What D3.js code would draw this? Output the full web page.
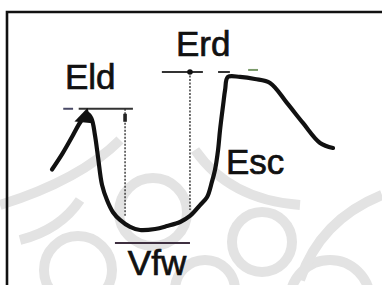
<!DOCTYPE html>
<html>
<head>
<meta charset="utf-8">
<script src="https://cdn.jsdelivr.net/npm/d3@7"></script>
<style>
  body { margin: 0; background: #fff; }
  svg { display: block; }
</style>
</head>
<body>
<div id="chart"></div>
<script>
var width = 382, height = 285;

// waveform: time (0-100) against level (0 = Vfw, 100 = Erd)
var times  = [0, 3.6, 7.1, 10, 12.5, 14, 15.3, 16.4, 17.8, 19.6, 21.7, 24.2, 27.8, 31.3, 36.7, 40.9, 45.6, 49.1, 52.7, 55.2, 56.9, 58.0, 59.1, 59.8, 60.9, 61.6, 62.6, 66.9, 72.2, 77.6, 83.6, 89.3, 95.4, 100];
var levels = [43, 52, 62, 70.5, 75.5, 73, 63, 50, 34, 25, 18, 13.5, 9.4, 7.6, 8.2, 9.9, 12.3, 15.8, 22.2, 26.9, 35.7, 42.7, 54.4, 66.1, 80.7, 89.5, 97.1, 97.1, 95.9, 93.6, 81.9, 70.2, 58.5, 55.6];

// levels of the marked reference lines
var eldLevel = 78.5, erdLevel = 100, vfwLevel = 0;

// label text
var labelNames = ["Eld", "Erd", "Esc", "Vfw"];
var labelTimes = [4.6, 44.1, 61.9, 27];
var labelLevels = [90, 109.4, 40.4, -18.7];

var svg = d3.select("#chart")
  .append("svg")
    .attr("width", width)
    .attr("height", height);

var x = d3.scaleLinear().domain([0, 100]).range([52, 333]);
var y = d3.scaleLinear().domain([0, 100]).range([243, 72]);

// faint watermark in the background
var wm = svg.append("g")
  .attr("fill", "none")
  .attr("stroke", "#e3e3e3")
  .attr("stroke-width", 10);
[[153, 212, 34], [262, 242, 30], [78, 270, 34], [205, 290, 30], [330, 300, 40]].forEach(function (c) {
  wm.append("circle").attr("cx", c[0]).attr("cy", c[1]).attr("r", c[2]);
});
wm.append("path").attr("d", "M0,205 Q80,180 120,140");
wm.append("path").attr("d", "M382,195 Q320,220 300,280");
wm.append("path").attr("d", "M195,150 Q230,200 300,205");
wm.append("path").attr("d", "M20,240 Q60,230 80,200");

// frame
svg.append("path")
  .attr("d", "M7,290 V12 H390")
  .attr("fill", "none")
  .attr("stroke", "#111")
  .attr("stroke-width", 2.6);

// reference lines
var ref = svg.append("g").attr("stroke", "#333").attr("fill", "none");

ref.append("line")
  .attr("x1", x(4)).attr("x2", x(7.5))
  .attr("y1", y(eldLevel)).attr("y2", y(eldLevel))
  .attr("stroke", "#4a4a66").attr("stroke-width", 2);
ref.append("line")
  .attr("x1", x(9.5)).attr("x2", x(28.8))
  .attr("y1", y(eldLevel)).attr("y2", y(eldLevel))
  .attr("stroke-width", 2);
ref.append("line")
  .attr("x1", x(26)).attr("x2", x(26))
  .attr("y1", y(eldLevel)).attr("y2", y(16))
  .attr("stroke-width", 1.4)
  .attr("stroke-dasharray", "2,1.5");
ref.append("rect")
  .attr("x", x(26) - 1.8).attr("y", y(eldLevel) + 5)
  .attr("width", 3.6).attr("height", 8)
  .attr("fill", "#222").attr("stroke", "none");

ref.append("line")
  .attr("x1", x(39.1)).attr("x2", x(53.7))
  .attr("y1", y(erdLevel)).attr("y2", y(erdLevel))
  .attr("stroke-width", 2);
ref.append("line")
  .attr("x1", x(59.1)).attr("x2", x(63.3))
  .attr("y1", y(erdLevel)).attr("y2", y(erdLevel))
  .attr("stroke-width", 2);
ref.append("line")
  .attr("x1", x(69.8)).attr("x2", x(73.3))
  .attr("y1", y(erdLevel + 1.2)).attr("y2", y(erdLevel + 1.2))
  .attr("stroke", "#7a9a6a").attr("stroke-width", 2);
ref.append("line")
  .attr("x1", x(49.1)).attr("x2", x(49.1))
  .attr("y1", y(erdLevel)).attr("y2", y(19.3))
  .attr("stroke-width", 1.4)
  .attr("stroke-dasharray", "2,1.5");
ref.append("circle")
  .attr("cx", x(49.1)).attr("cy", y(erdLevel)).attr("r", 2.8)
  .attr("fill", "#111").attr("stroke", "none");

ref.append("line")
  .attr("x1", x(22.4)).attr("x2", x(49.1))
  .attr("y1", y(vfwLevel)).attr("y2", y(vfwLevel))
  .attr("stroke", "#3e2f40").attr("stroke-width", 2.2);

// the waveform
var pts = times.map(function (t, i) { return [t, levels[i]]; });
svg.append("path")
  .datum(pts)
  .attr("fill", "none")
  .attr("stroke", "#111")
  .attr("stroke-width", 4.2)
  .attr("stroke-linecap", "round")
  .attr("stroke-linejoin", "round")
  .attr("d", d3.line()
    .x(function (d) { return x(d[0]); })
    .y(function (d) { return y(d[1]); })
    .curve(d3.curveCatmullRom));

// arrow blob at the Eld peak
svg.append("path")
  .attr("d", "M" + x(8) + "," + y(71) + " L" + x(12.6) + "," + y(79) + " L" + x(14.4) + "," + y(70) + " Z")
  .attr("fill", "#111");

// labels
svg.selectAll(".lbl")
  .data(labelNames)
  .enter()
  .append("text")
    .attr("class", "lbl")
    .attr("x", function (d, i) { return x(labelTimes[i]); })
    .attr("y", function (d, i) { return y(labelLevels[i]); })
    .attr("font-family", "Liberation Sans, Arial, sans-serif")
    .attr("font-size", 35)
    .attr("fill", "#111")
    .attr("stroke", "#111")
    .attr("stroke-width", 0.7)
    .text(function (d) { return d; });
</script>
</body>
</html>
